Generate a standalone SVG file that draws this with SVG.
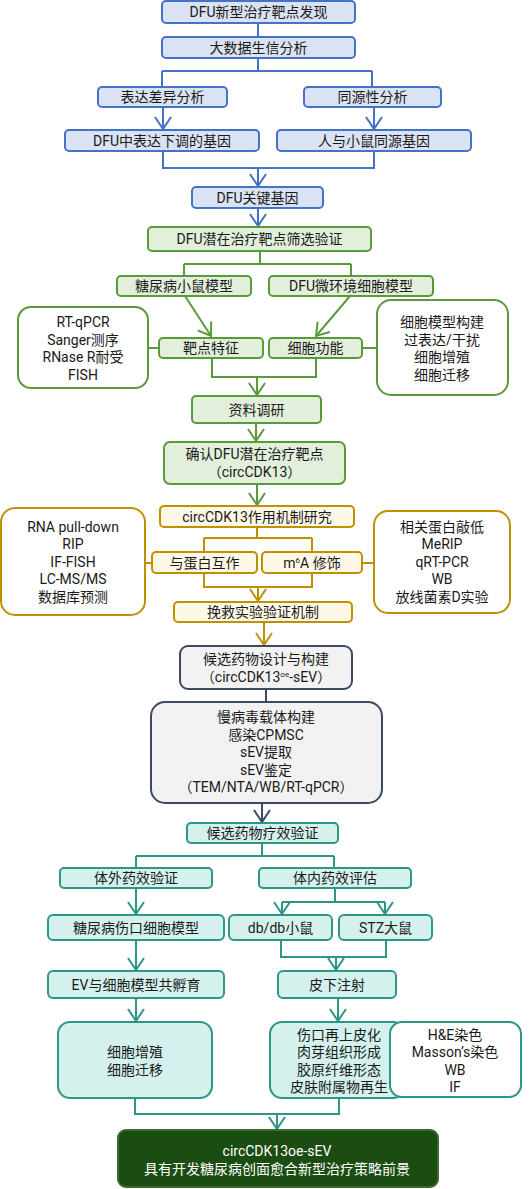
<svg xmlns="http://www.w3.org/2000/svg" width="531" height="1189" viewBox="0 0 531 1189">
<style>
text{font-family:Roboto,"Noto Sans CJK SC",sans-serif;font-size:14px;fill:#1a1a1a;text-anchor:middle;dominant-baseline:central}
rect{stroke-width:2}
.b rect{fill:#dae3f3;stroke:#4472c4}
.g rect{fill:#e2efda;stroke:#5b9a3a}
.y rect{fill:#fff8e6;stroke:#bf9000}
.k rect{fill:#f2f2f2;stroke:#3b4a5e}
.t rect{fill:#d4f1ee;stroke:#2e9688}
.w rect{fill:#ffffff;stroke:#2e9688}
.gw rect{fill:#ffffff;stroke:#5b9a3a}
.yw rect{fill:#ffffff;stroke:#bf9000}
.f rect{fill:#1b4d12;stroke:#3d6b2e}
.f text{fill:#ffffff}
.c path{fill:none;stroke-width:2}
.cb{stroke:#4472c4}
.cg{stroke:#5b9a3a}
.cy{stroke:#bf9000}
.ck{stroke:#3b4a5e}
.ct{stroke:#2e9688}
</style>
<defs>
<marker id="ab" markerUnits="userSpaceOnUse" viewBox="0 0 14 18" refX="13" refY="9" markerWidth="14" markerHeight="18" orient="auto"><path d="M1,1 L13,9 L1,17" fill="none" stroke="#4472c4" stroke-width="2"/></marker>
<marker id="ag" markerUnits="userSpaceOnUse" viewBox="0 0 14 18" refX="13" refY="9" markerWidth="14" markerHeight="18" orient="auto"><path d="M1,1 L13,9 L1,17" fill="none" stroke="#5b9a3a" stroke-width="2"/></marker>
<marker id="ay" markerUnits="userSpaceOnUse" viewBox="0 0 14 18" refX="13" refY="9" markerWidth="14" markerHeight="18" orient="auto"><path d="M1,1 L13,9 L1,17" fill="none" stroke="#bf9000" stroke-width="2"/></marker>
<marker id="ak" markerUnits="userSpaceOnUse" viewBox="0 0 14 18" refX="13" refY="9" markerWidth="14" markerHeight="18" orient="auto"><path d="M1,1 L13,9 L1,17" fill="none" stroke="#3b4a5e" stroke-width="2"/></marker>
<marker id="at" markerUnits="userSpaceOnUse" viewBox="0 0 14 18" refX="13" refY="9" markerWidth="14" markerHeight="18" orient="auto"><path d="M1,1 L13,9 L1,17" fill="none" stroke="#2e9688" stroke-width="2"/></marker>
</defs>

<g id="connectors" class="c">
<path class="cb" d="M258,23 V37 M258,58 V71 M162,71 H372 M162,71 V87 M372,71 V87 M163,151 V168 H374 V151"/>
<path class="cb" d="M163,107 V129" marker-end="url(#ab)"/>
<path class="cb" d="M374,107 V129" marker-end="url(#ab)"/>
<path class="cb" d="M258,168 V186" marker-end="url(#ab)"/>
<path class="cb" d="M258,208 V226" marker-end="url(#ab)"/>

<path class="cg" d="M260,251 V264 M184,264 H351 M184,264 V276 M351,264 V276 M148,348 H159 M362,348 H377 M212,358 V377 H316 V358"/>
<path class="cg" d="M185,296 L211,336" marker-end="url(#ag)"/>
<path class="cg" d="M350,296 L316,336" marker-end="url(#ag)"/>
<path class="cg" d="M257,377 V395" marker-end="url(#ag)"/>
<path class="cg" d="M256,423 V441" marker-end="url(#ag)"/>
<path class="cg" d="M257,484 V505" marker-end="url(#ag)"/>

<path class="cy" d="M257,527 V538 M204,538 H312 M204,538 V552 M312,538 V552 M145,563 H152 M362,563 H374 M204,573 V587 H312 V573"/>
<path class="cy" d="M258,587 V601" marker-end="url(#ay)"/>
<path class="cy" d="M264,622 V645" marker-end="url(#ay)"/>

<path class="ck" d="M266,689 V702"/>
<path class="ck" d="M262,803 V822" marker-end="url(#ak)"/>

<path class="ct" d="M262,843 V856 M136,856 H334 M136,856 V868 M334,856 V868 M335,888 V902 M282,902 H385 M281,940 V957 H386 V940 M135,1098 V1114 H339 V1098"/>
<path class="ct" d="M136,888 V914" marker-end="url(#at)"/>
<path class="ct" d="M282,902 V914" marker-end="url(#at)"/>
<path class="ct" d="M385,902 V914" marker-end="url(#at)"/>
<path class="ct" d="M136,940 V970" marker-end="url(#at)"/>
<path class="ct" d="M336,957 V970" marker-end="url(#at)"/>
<path class="ct" d="M136,998 V1021" marker-end="url(#at)"/>
<path class="ct" d="M338,998 V1021" marker-end="url(#at)"/>
<path class="ct" d="M277,1114 V1129" marker-end="url(#at)"/>
</g>

<g id="n1" class="b"><rect x="162" y="1" width="193" height="22" rx="4"/><text x="258.5" y="12">DFU新型治疗靶点发现</text></g>
<g id="n2" class="b"><rect x="162" y="37" width="193" height="21" rx="4"/><text x="258.5" y="47.5">大数据生信分析</text></g>
<g id="n3" class="b"><rect x="98" y="87" width="129" height="20" rx="4"/><text x="162.5" y="97">表达差异分析</text></g>
<g id="n4" class="b"><rect x="304" y="87" width="137" height="20" rx="4"/><text x="372.5" y="97">同源性分析</text></g>
<g id="n5" class="b"><rect x="65" y="130" width="194" height="21" rx="4"/><text x="162" y="140.5">DFU中表达下调的基因</text></g>
<g id="n6" class="b"><rect x="277" y="130" width="194" height="21" rx="4"/><text x="374" y="140.5">人与小鼠同源基因</text></g>
<g id="n7" class="b"><rect x="192" y="187" width="131" height="21" rx="4"/><text x="257.5" y="197.5">DFU关键基因</text></g>

<g id="n8" class="g"><rect x="148" y="227" width="223" height="24" rx="4"/><text x="259.5" y="239">DFU潜在治疗靶点筛选验证</text></g>
<g id="n9" class="g"><rect x="117" y="276" width="134" height="20" rx="4"/><text x="184" y="286">糖尿病小鼠模型</text></g>
<g id="n10" class="g"><rect x="269" y="276" width="164" height="20" rx="4"/><text x="351" y="286">DFU微环境细胞模型</text></g>
<g id="n11" class="g"><rect x="159" y="338" width="104" height="20" rx="4"/><text x="211" y="348">靶点特征</text></g>
<g id="n12" class="g"><rect x="269" y="338" width="93" height="20" rx="4"/><text x="315.5" y="348">细胞功能</text></g>
<g id="n13" class="gw"><rect x="18" y="307" width="130" height="81" rx="13"/><text x="83" y="322">RT-qPCR</text><text x="83" y="339.5">Sanger测序</text><text x="83" y="357">RNase R耐受</text><text x="83" y="374.5">FISH</text></g>
<g id="n14" class="gw"><rect x="377" y="300" width="131" height="95" rx="14"/><text x="442" y="322">细胞模型构建</text><text x="442" y="339.5">过表达/干扰</text><text x="442" y="357">细胞增殖</text><text x="442" y="374.5">细胞迁移</text></g>
<g id="n15" class="g"><rect x="192" y="396" width="129" height="27" rx="4"/><text x="256.5" y="409.5">资料调研</text></g>
<g id="n16" class="g"><rect x="164" y="442" width="181" height="42" rx="6"/><text x="254.5" y="454">确认DFU潜在治疗靶点</text><text x="254.5" y="472">（circCDK13）</text></g>

<g id="n17" class="y"><rect x="160" y="506" width="194" height="21" rx="4"/><text x="257" y="516.5">circCDK13作用机制研究</text></g>
<g id="n18" class="y"><rect x="152" y="552" width="105" height="21" rx="4"/><text x="204.5" y="562.5">与蛋白互作</text></g>
<g id="n19" class="y"><rect x="262" y="552" width="100" height="21" rx="4"/><text x="312" y="562.5">m<tspan font-size="8" dy="-3">6</tspan><tspan dy="3">A 修饰</tspan></text></g>
<g id="n20" class="yw"><rect x="1" y="508" width="144" height="107" rx="14"/><text x="73" y="526.5">RNA pull-down</text><text x="73" y="544">RIP</text><text x="73" y="561.5">IF-FISH</text><text x="73" y="579">LC-MS/MS</text><text x="73" y="596.5">数据库预测</text></g>
<g id="n21" class="yw"><rect x="374" y="511" width="136" height="102" rx="14"/><text x="442" y="526.5">相关蛋白敲低</text><text x="442" y="544">MeRIP</text><text x="442" y="561.5">qRT-PCR</text><text x="442" y="579">WB</text><text x="442" y="596.5">放线菌素D实验</text></g>
<g id="n22" class="y"><rect x="174" y="602" width="178" height="20" rx="4"/><text x="263" y="612">挽救实验验证机制</text></g>

<g id="n23" class="k"><rect x="180" y="646" width="172" height="43" rx="8"/><text x="266" y="659">候选药物设计与构建</text><text x="266" y="677">（circCDK13<tspan font-size="8" dy="-3">oe</tspan><tspan dy="3">-sEV）</tspan></text></g>
<g id="n24" class="k"><rect x="151" y="702" width="231" height="101" rx="14"/><text x="266" y="717">慢病毒载体构建</text><text x="266" y="734.5">感染CPMSC</text><text x="266" y="752">sEV提取</text><text x="266" y="769.5">sEV鉴定</text><text x="266" y="787">（TEM/NTA/WB/RT-qPCR）</text></g>

<g id="n25" class="t"><rect x="187" y="823" width="151" height="20" rx="4"/><text x="262.5" y="833">候选药物疗效验证</text></g>
<g id="n26" class="t"><rect x="60" y="868" width="152" height="20" rx="4"/><text x="136" y="878">体外药效验证</text></g>
<g id="n27" class="t"><rect x="259" y="868" width="152" height="20" rx="4"/><text x="335" y="878">体内药效评估</text></g>
<g id="n28" class="t"><rect x="48" y="915" width="176" height="25" rx="5"/><text x="136" y="927.5">糖尿病伤口细胞模型</text></g>
<g id="n29" class="t"><rect x="229" y="915" width="103" height="25" rx="5"/><text x="280.5" y="927.5">db/db小鼠</text></g>
<g id="n30" class="t"><rect x="339" y="915" width="93" height="25" rx="5"/><text x="385.5" y="927.5">STZ大鼠</text></g>
<g id="n31" class="t"><rect x="48" y="971" width="176" height="27" rx="5"/><text x="136" y="984.5">EV与细胞模型共孵育</text></g>
<g id="n32" class="t"><rect x="278" y="971" width="118" height="27" rx="5"/><text x="337" y="984.5">皮下注射</text></g>
<g id="n33" class="t"><rect x="58" y="1022" width="154" height="76" rx="12"/><text x="135" y="1052">细胞增殖</text><text x="135" y="1069.5">细胞迁移</text></g>
<g id="n34" class="t"><rect x="270" y="1022" width="135" height="76" rx="12"/><text x="339" y="1034.5">伤口再上皮化</text><text x="339" y="1052">肉芽组织形成</text><text x="339" y="1069.5">胶原纤维形态</text><text x="339" y="1087">皮肤附属物再生</text></g>
<g id="n35" class="w"><rect x="390" y="1022" width="131" height="75" rx="12"/><text x="455" y="1034.5">H&amp;E染色</text><text x="455" y="1052">Masson’s染色</text><text x="455" y="1069.5">WB</text><text x="455" y="1087">IF</text></g>

<g id="n36" class="f"><rect x="118" y="1130" width="320" height="57" rx="8"/><text x="277" y="1151">circCDK13oe-sEV</text><text x="277" y="1168.5">具有开发糖尿病创面愈合新型治疗策略前景</text></g>
</svg>
